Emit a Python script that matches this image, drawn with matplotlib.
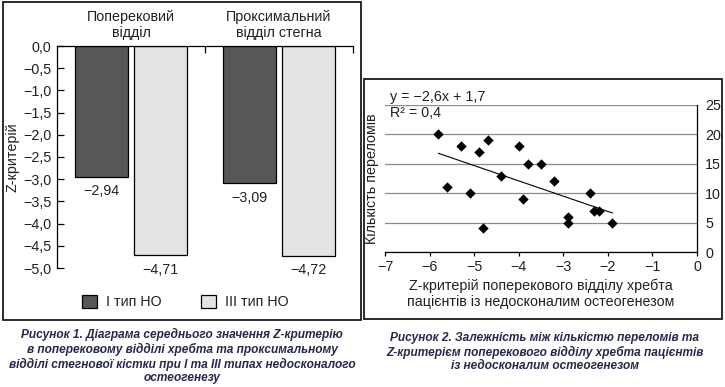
"""Два рисунки: Z-критерій (стовпчики) і залежність кількості переломів від Z-критерію."""

import matplotlib

matplotlib.use("Agg")
import matplotlib.pyplot as plt
from matplotlib.patches import Patch, Rectangle
from matplotlib.ticker import FuncFormatter

plt.rcParams["font.family"] = ["Liberation Sans", "DejaVu Sans"]

# --- дані ---
regions = ["Поперековий\nвідділ", "Проксимальний\nвідділ стегна"]
z_type1 = [-2.94, -3.09]
z_type3 = [-4.71, -4.72]
z_labels1 = ["−2,94", "−3,09"]
z_labels3 = ["−4,71", "−4,72"]
legend_labels = ["I тип НО", "III тип НО"]

z_spine = [-5.8, -5.6, -5.3, -5.1, -4.9, -4.8, -4.7, -4.4, -4.0, -3.9,
           -3.8, -3.5, -3.2, -2.9, -2.9, -2.4, -2.3, -2.2, -1.9]
fractures = [20, 11, 18, 10, 17, 4, 19, 13, 18, 9,
             15, 15, 12, 6, 5, 10, 7, 7, 5]
trend_slope = -2.6
trend_intercept = 1.7

caption1 = ("Рисунок 1. Діаграма середнього значення Z-критерію\n"
            "в поперековому відділі хребта та проксимальному\n"
            "відділі стегнової кістки при I та III типах недосконалого\n"
            "остеогенезу")
caption2 = ("Рисунок 2. Залежність між кількістю переломів та\n"
            "Z-критерієм поперекового відділу хребта пацієнтів\n"
            "із недосконалим остеогенезом")

DARK = "#575757"
LIGHT = "#e2e3e4"
TEXT = "#231f20"
CAPTION = "#262949"
FS = 10.3
W, H = 725, 387


def comma(v, _pos=None, fmt="{:.1f}"):
    return fmt.format(v).replace(".", ",").replace("-", "−")


fig = plt.figure(figsize=(W / 100, H / 100), dpi=100)

# рамки панелей
for x0, y0, x1, y1 in [(3, 2, 361, 320), (364, 79, 722, 319)]:
    fig.patches.append(Rectangle((x0 / W, 1 - y1 / H), (x1 - x0) / W, (y1 - y0) / H,
                                 transform=fig.transFigure, fill=False,
                                 edgecolor="#1a1a1a", linewidth=1.3))

# --- рисунок 1 ---
ax1 = fig.add_axes([57 / W, 1 - 268 / H, 296 / W, 222 / H])
xs = range(len(regions))
bw = 0.36
off = 0.197
b1 = ax1.bar([x - off for x in xs], z_type1, bw, color=DARK, edgecolor="black", linewidth=0.9)
b3 = ax1.bar([x + off for x in xs], z_type3, bw, color=LIGHT, edgecolor="black", linewidth=0.9)
for bars, labels in [(b1, z_labels1), (b3, z_labels3)]:
    for bar, lab in zip(bars, labels):
        ax1.annotate(lab, (bar.get_x() + bar.get_width() / 2, bar.get_height()),
                     xytext=(0, -5.5), textcoords="offset points", ha="center", va="top",
                     fontsize=FS, color=TEXT)
ax1.set_xlim(-0.5, 1.5)
ax1.set_ylim(-5, 0)
ax1.set_yticks([-5 + 0.5 * i for i in range(11)])
ax1.yaxis.set_major_formatter(FuncFormatter(comma))
ax1.xaxis.tick_top()
ax1.set_xticks([0.5, 1.5])
ax1.set_xticklabels([])
ax1.tick_params(axis="x", direction="in", length=5, width=0.9)
ax1.tick_params(axis="y", direction="in", length=5, width=0.9, labelsize=FS,
                labelcolor=TEXT, pad=4)
for side in ["right", "bottom"]:
    ax1.spines[side].set_visible(False)
for side in ["top", "left"]:
    ax1.spines[side].set_linewidth(0.9)
ax1.set_ylabel("Z-критерій", fontsize=FS, color=TEXT)
ax1.yaxis.set_label_coords((19 - 57) / 296, 0.5)
for x, name in zip(xs, regions):
    ax1.text(x, 1 + 21 / 222, name, transform=ax1.get_xaxis_transform(), ha="center",
             va="center", fontsize=FS, color=TEXT, linespacing=1.15)
handles = [Patch(facecolor=DARK, edgecolor="black", linewidth=0.9),
           Patch(facecolor=LIGHT, edgecolor="black", linewidth=0.9)]
fig.legend(handles, legend_labels, loc="center left", bbox_to_anchor=(82 / W, 1 - 302 / H),
           ncol=2, frameon=False, fontsize=FS, borderpad=0, borderaxespad=0,
           handlelength=1.05, handleheight=1.05, handletextpad=0.6, columnspacing=2.8,
           labelcolor=TEXT)

# --- рисунок 2 ---
ax2 = fig.add_axes([385 / W, 1 - 252 / H, 312 / W, 147 / H])
ax2.set_xlim(-7, 0)
ax2.set_ylim(0, 25)
ax2.set_xticks(range(-7, 1))
ax2.xaxis.set_major_formatter(FuncFormatter(lambda v, p: comma(v, p, "{:.0f}")))
ax2.set_yticks(range(0, 26, 5))
ax2.yaxis.tick_right()
ax2.yaxis.set_label_position("left")
ax2.grid(True, axis="y", color="#8c8c8c", linewidth=0.9)
ax2.set_axisbelow(True)
ax2.tick_params(axis="x", direction="out", length=3, width=0.9, labelsize=FS,
                labelcolor=TEXT, pad=3)
ax2.tick_params(axis="y", length=0, labelsize=FS, labelcolor=TEXT, pad=6)
ax2.spines["top"].set_visible(False)
ax2.spines["left"].set_visible(False)
ax2.spines["right"].set_linewidth(0.9)
ax2.spines["bottom"].set_linewidth(0.9)
ax2.scatter(z_spine, fractures, marker="D", s=28, color="black", zorder=3, linewidths=0)
tx = [min(z_spine), max(z_spine)]
ax2.plot(tx, [trend_slope * x + trend_intercept for x in tx], color="black", linewidth=0.8)
ax2.text(0.016, 1 + 8 / 147, "y = −2,6x + 1,7", transform=ax2.transAxes, ha="left",
         va="center", fontsize=FS, color=TEXT)
ax2.text(0.016, 1 - 8 / 147, "R² = 0,4", transform=ax2.transAxes, ha="left",
         va="center", fontsize=FS, color=TEXT)
ax2.set_ylabel("Кількість переломів", fontsize=FS, color=TEXT)
ax2.yaxis.set_label_coords(-0.018, 0.5)
ax2.set_xlabel("Z-критерій поперекового відділу хребта\nпацієнтів із недосконалим остеогенезом",
               fontsize=FS, color=TEXT, labelpad=3, linespacing=1.15)

# --- підписи ---
cap_font = ["Liberation Sans Narrow", "Liberation Sans", "DejaVu Sans"]
fig.text(182 / W, 1 - 356 / H, caption1, ha="center", va="center", fontsize=8.6,
         fontweight="bold", fontstyle="italic", color=CAPTION, linespacing=1.2,
         family=cap_font)
fig.text(545 / W, 1 - 352 / H, caption2, ha="center", va="center", fontsize=8.6,
         fontweight="bold", fontstyle="italic", color=CAPTION, linespacing=1.2,
         family=cap_font)

fig.savefig("out.png", dpi=100)
